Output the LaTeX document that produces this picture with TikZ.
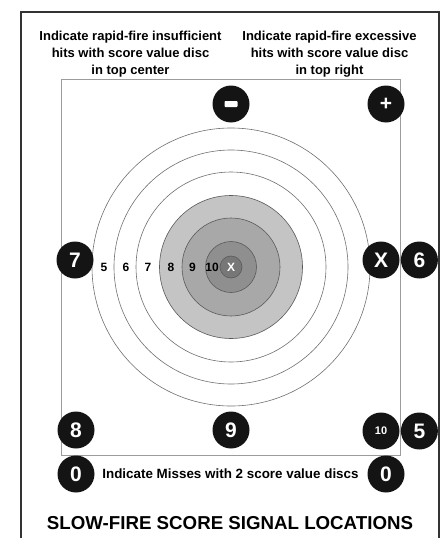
\documentclass[tikz,border=0pt]{standalone}
\usepackage{fontspec}
\setmainfont{Liberation Sans}
\usetikzlibrary{positioning}
\definecolor{Ink}{HTML}{141414}
\definecolor{Frame}{HTML}{333333}
\definecolor{BoxLine}{HTML}{9C9C9C}
\definecolor{RingLine}{HTML}{707070}
\definecolor{RingEight}{HTML}{C4C4C4}
\definecolor{RingNine}{HTML}{A8A8A8}
\definecolor{RingTen}{HTML}{8F8F8F}
\definecolor{RingX}{HTML}{777777}
\tikzset{
  disc/.style={
    circle, fill=Ink, text=white, minimum size=37pt,
    inner sep=0pt, font=\fontsize{21}{21}\selectfont\bfseries
  },
  smalldisc/.style={disc, font=\fontsize{11}{11}\selectfont\bfseries},
  ringlabel/.style={inner sep=0pt, font=\fontsize{12}{12}\selectfont\bfseries},
  note/.style={inner sep=0pt, align=center, font=\fontsize{13}{17}\selectfont\bfseries},
  ring/.style={draw=RingLine, line width=0.6pt},
  shadedring/.style={draw=RingLine!80!black, line width=0.6pt}
}

\begin{document}
\begin{tikzpicture}[x=1pt,y=-1pt]
        \useasboundingbox (0,0) rectangle (447,538);
        % frame and target sheet
        \draw[Frame, line width=1.8pt] (21,538) -- (21,12) -- (439,12) -- (439,538);
        \draw[BoxLine, line width=0.8pt] (61.5,79) rectangle (400,455);
        % rings
        \coordinate (ctr) at (231,267);
        \draw[ring] (ctr) circle (139pt);
        \draw[ring] (ctr) circle (117pt);
        \draw[ring] (ctr) circle (95pt);
        \filldraw[shadedring, fill=RingEight] (ctr) circle (71.5pt);
        \filldraw[shadedring, fill=RingNine] (ctr) circle (49pt);
        \filldraw[shadedring, fill=RingTen] (ctr) circle (25.5pt);
        \filldraw[shadedring, fill=RingX] (ctr) circle (11pt);
        \node[ringlabel] (r5) at (104,267) {5};
        \node[ringlabel] (r6) at (126,267) {6};
        \node[ringlabel] (r7) at (148,267) {7};
        \node[ringlabel] (r8) at (171,267) {8};
        \node[ringlabel] (r9) at (192.5,267) {9};
        \node[ringlabel] (r10) at (212,267) {10};
        \node[ringlabel, text=white] (rx) at (ctr) {X};
        % notes
        \node[note, anchor=base] (under) at (130.5,74) {Indicate rapid-fire insufficient\\hits with score value disc\\in top center};
        \node[note, anchor=base] (over) at (329.5,74) {Indicate rapid-fire excessive\\hits with score value disc\\in top right};
        % signal discs
        \node[disc] (minus) at (231,104) {};
        \fill[white, rounded corners=0.8pt] (224.5,101) rectangle (237.5,107);
        \node[disc] (plus) at (386,104) {+};
        \node[disc] (seven) at (75,260) {7};
        \node[disc] (xsig) at (381,260) {X};
        \node[disc, right=1pt of xsig] (six) {6};
        \node[disc] (eight) at (76,430) {8};
        \node[disc] (nine) at (231,430) {9};
        \node[smalldisc] (ten) at (381,431) {10};
        \node[disc, right=1pt of ten] (five) {5};
        \node[disc] (zeroL) at (76,474) {0};
        \node[disc] (zeroR) at (386,474) {0};
        \node[inner sep=0pt, font=\fontsize{13.4}{14}\selectfont\bfseries] (miss) at (230.5,474) {Indicate Misses with 2 score value discs};
        \node[inner sep=0pt, font=\fontsize{18.7}{20}\selectfont\bfseries] (title) at (230,523) {SLOW-FIRE SCORE SIGNAL LOCATIONS};
      \end{tikzpicture}
\end{document}
